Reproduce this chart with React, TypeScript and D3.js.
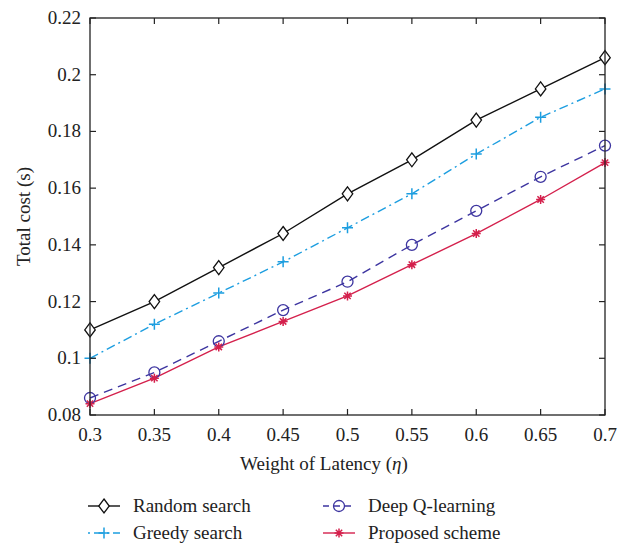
import React from "react";
import * as d3 from "d3";

const xValues = [0.3, 0.35, 0.4, 0.45, 0.5, 0.55, 0.6, 0.65, 0.7];
const randomSearch = [0.11, 0.12, 0.132, 0.144, 0.158, 0.17, 0.184, 0.195, 0.206];
const greedySearch = [0.1, 0.112, 0.123, 0.134, 0.146, 0.158, 0.172, 0.185, 0.195];
const deepQ = [0.086, 0.095, 0.106, 0.117, 0.127, 0.14, 0.152, 0.164, 0.175];
const proposed = [0.084, 0.093, 0.104, 0.113, 0.122, 0.133, 0.144, 0.156, 0.169];
const yTicks = [0.08, 0.1, 0.12, 0.14, 0.16, 0.18, 0.2, 0.22];
const xTicks = xValues;

const FONT = "Liberation Serif";

type Marker = "diamond" | "plus" | "circle" | "star";
const series: { name: string; values: number[]; color: string; dash: string; marker: Marker }[] = [
  { name: "Random search", values: randomSearch, color: "#111111", dash: "", marker: "diamond" },
  { name: "Greedy search", values: greedySearch, color: "#1d9ee0", dash: "9,4,2,4", marker: "plus" },
  { name: "Deep Q-learning", values: deepQ, color: "#3d35a0", dash: "9,6", marker: "circle" },
  { name: "Proposed scheme", values: proposed, color: "#d4204c", dash: "", marker: "star" },
];

function MarkerShape({ type, x, y, color }: { type: Marker; x: number; y: number; color: string }) {
  if (type === "diamond") {
    const s = 7;
    return <path d={`M${x},${y - s}L${x + s * 0.75},${y}L${x},${y + s}L${x - s * 0.75},${y}Z`} fill="white" stroke={color} strokeWidth={1.3} />;
  }
  if (type === "plus") {
    const s = 5.5;
    return <path d={`M${x - s},${y}H${x + s}M${x},${y - s}V${y + s}`} stroke={color} strokeWidth={1.5} fill="none" />;
  }
  if (type === "circle") {
    return <circle cx={x} cy={y} r={5.5} fill="none" stroke={color} strokeWidth={1.3} />;
  }
  const s = 4.5;
  const d = d3.range(4).map((i) => {
    const a = (i * Math.PI) / 4;
    return `M${x - s * Math.cos(a)},${y - s * Math.sin(a)}L${x + s * Math.cos(a)},${y + s * Math.sin(a)}`;
  }).join("");
  return <path d={d} stroke={color} strokeWidth={1.5} fill="none" />;
}

export default function App() {
  const W = 630, H = 545;
  const L = 90, R = 605, T = 18, B = 415;
  const x = d3.scaleLinear().domain([0.3, 0.7]).range([L, R]);
  const y = d3.scaleLinear().domain([0.08, 0.22]).range([B, T]);
  const line = d3.line<number>().x((_, i) => x(xValues[i])).y((v) => y(v));
  const tick = 6;
  const fs = 19;

  const legendPos = [
    { lx: 88, ly: 506 },
    { lx: 88, ly: 533 },
    { lx: 323, ly: 506 },
    { lx: 323, ly: 533 },
  ];

  return (
    <svg width={W} height={H} style={{ position: "absolute", left: 0, top: 0, background: "white" }}>
      <rect x={0} y={0} width={W} height={H} fill="white" />
      {series.map((s) => (
        <path key={s.name} d={line(s.values) || ""} fill="none" stroke={s.color} strokeWidth={1.4} strokeDasharray={s.dash} />
      ))}
      {series.map((s) =>
        s.values.map((v, i) => <MarkerShape key={s.name + i} type={s.marker} x={x(xValues[i])} y={y(v)} color={s.color} />)
      )}
      <rect x={L} y={T} width={R - L} height={B - T} fill="none" stroke="#222" strokeWidth={1.3} />
      {xTicks.map((t) => (
        <g key={"x" + t}>
          <line x1={x(t)} x2={x(t)} y1={B} y2={B - tick} stroke="#222" strokeWidth={1.2} />
          <line x1={x(t)} x2={x(t)} y1={T} y2={T + tick} stroke="#222" strokeWidth={1.2} />
          <text x={x(t)} y={B + 26} textAnchor="middle" fontFamily={FONT} fontSize={fs} fill="#222">{String(t)}</text>
        </g>
      ))}
      {yTicks.map((t) => (
        <g key={"y" + t}>
          <line x1={L} x2={L + tick} y1={y(t)} y2={y(t)} stroke="#222" strokeWidth={1.2} />
          <line x1={R} x2={R - tick} y1={y(t)} y2={y(t)} stroke="#222" strokeWidth={1.2} />
          <text x={L - 9} y={y(t) + 6} textAnchor="end" fontFamily={FONT} fontSize={fs} fill="#222">{String(t)}</text>
        </g>
      ))}
      <text x={324} y={470} textAnchor="middle" fontFamily={FONT} fontSize={fs} fill="#222">
        Weight of Latency (<tspan fontStyle="italic">η</tspan>)
      </text>
      <text transform={`translate(30,${(T + B) / 2}) rotate(-90)`} textAnchor="middle" fontFamily={FONT} fontSize={fs} fill="#222">
        Total cost (s)
      </text>
      {series.map((s, i) => {
        const { lx, ly } = legendPos[i];
        return (
          <g key={"lg" + s.name}>
            <line x1={lx} x2={lx + 32} y1={ly} y2={ly} stroke={s.color} strokeWidth={1.4} strokeDasharray={s.dash ? (s.marker === "plus" ? "2,4,9,4" : "6,5") : ""} />
            <MarkerShape type={s.marker} x={lx + 16} y={ly} color={s.color} />
            <text x={lx + 45} y={ly + 6} fontFamily={FONT} fontSize={fs} fill="#222">{s.name}</text>
          </g>
        );
      })}
    </svg>
  );
}
